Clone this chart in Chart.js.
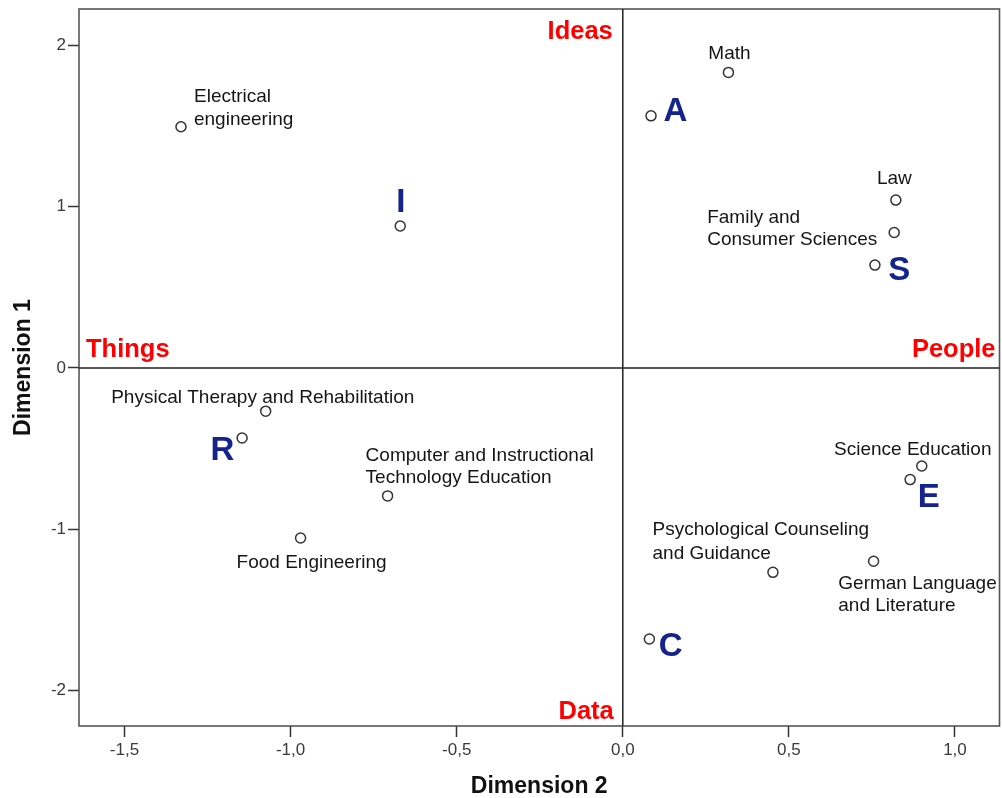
<!DOCTYPE html>
<html>
<head>
<meta charset="utf-8">
<script src="https://cdn.jsdelivr.net/npm/chart.js@4.4.1/dist/chart.umd.min.js"></script>
<style>
  html, body { margin: 0; padding: 0; background: #ffffff; overflow: hidden; }
  #wrap { width: 1006px; height: 798px; }
</style>
</head>
<body>
<div id="wrap"><canvas id="c" width="1006" height="798"></canvas></div>
<script>
// ---- Data ----
const fieldNames = ['Electrical engineering', 'Math', 'Law', 'Family and Consumer Sciences',
  'Physical Therapy and Rehabilitation', 'Computer and Instructional Technology Education',
  'Food Engineering', 'Science Education', 'Psychological Counseling and Guidance',
  'German Language and Literature'];
const fieldLabelLines = [['Electrical', 'engineering'], ['Math'], ['Law'], ['Family and', 'Consumer Sciences'],
  ['Physical Therapy and Rehabilitation'], ['Computer and Instructional', 'Technology Education'],
  ['Food Engineering'], ['Science Education'], ['Psychological Counseling', 'and Guidance'],
  ['German Language', 'and Literature']];
const fieldDim2 = [-1.330, 0.318, 0.822, 0.817, -1.075, -0.708, -0.970, 0.900, 0.452, 0.755];
const fieldDim1 = [1.494, 1.831, 1.040, 0.839, -0.268, -0.793, -1.054, -0.608, -1.267, -1.198];

const typeLetters = ['R', 'I', 'A', 'S', 'E', 'C'];
const typeDim2 = [-1.146, -0.670, 0.085, 0.759, 0.865, 0.080];
const typeDim1 = [-0.434, 0.879, 1.562, 0.637, -0.692, -1.680];

const quadrantLabels = ['Ideas', 'Things', 'People', 'Data'];

const xTickValues = [-1.5, -1.0, -0.5, 0.0, 0.5, 1.0];
const yTickValues = [-2, -1, 0, 1, 2];
const xTitle = 'Dimension 2';
const yTitle = 'Dimension 1';

// ---- Styling (label offsets relative to each point, in pixels) ----
const fieldLabelStyle = [
  {dx: 13, dy: [-25, -1.5], align: 'left'},
  {dx: 1, dy: [-13.5], align: 'center'},
  {dx: -1.5, dy: [-16.5], align: 'center'},
  {dx: -187, dy: [-9.5, 12.7], align: 'left'},
  {dx: -154.5, dy: [-7.7], align: 'left'},
  {dx: -22, dy: [-35, -12.4], align: 'left'},
  {dx: -64, dy: [29.6], align: 'left'},
  {dx: -87.7, dy: [-10.7], align: 'left'},
  {dx: -120.4, dy: [-37, -13.7], align: 'left'},
  {dx: -35.3, dy: [27.3, 50], align: 'left'}
];
const typeLabelStyle = [
  {dx: -19.8, dy: 22.3}, {dx: 0.5, dy: -13.7}, {dx: 24.5, dy: 5},
  {dx: 24.3, dy: 15}, {dx: 18.7, dy: 27.4}, {dx: 21.3, dy: 17.3}
];

const FONT = "'Liberation Sans', Arial, Helvetica, sans-serif";

const fieldPoints = fieldDim2.map((x, i) => ({x: x, y: fieldDim1[i]}));
const typePoints = typeDim2.map((x, i) => ({x: x, y: typeDim1[i]}));

const noPad = () => ({left: 0, right: 0, top: 0, bottom: 0});

const overlayPlugin = {
  id: 'overlay',
  beforeDatasetsDraw(chart) {
    const ctx = chart.ctx, a = chart.chartArea;
    const sx = chart.scales.x, sy = chart.scales.y;
    ctx.save();
    ctx.strokeStyle = '#555555';
    ctx.lineWidth = 1.6;
    ctx.strokeRect(a.left, a.top, a.right - a.left, a.bottom - a.top);
    ctx.strokeStyle = '#222222';
    ctx.lineWidth = 1.5;
    const x0 = sx.getPixelForValue(0), y0 = sy.getPixelForValue(0);
    ctx.beginPath();
    ctx.moveTo(x0, a.top); ctx.lineTo(x0, a.bottom);
    ctx.moveTo(a.left, y0); ctx.lineTo(a.right, y0);
    ctx.stroke();
    ctx.restore();
  },
  afterDatasetsDraw(chart) {
    const ctx = chart.ctx, a = chart.chartArea;
    const sx = chart.scales.x, sy = chart.scales.y;
    ctx.save();
    ctx.font = '19px ' + FONT;
    ctx.fillStyle = '#151515';
    ctx.textBaseline = 'alphabetic';
    fieldPoints.forEach((p, i) => {
      const px = sx.getPixelForValue(p.x), py = sy.getPixelForValue(p.y);
      const st = fieldLabelStyle[i];
      ctx.textAlign = st.align;
      fieldLabelLines[i].forEach((line, j) => {
        ctx.fillText(line, px + st.dx, py + st.dy[j]);
      });
    });
    ctx.font = 'bold 33px ' + FONT;
    ctx.fillStyle = '#14248c';
    ctx.textAlign = 'center';
    typePoints.forEach((p, i) => {
      const px = sx.getPixelForValue(p.x), py = sy.getPixelForValue(p.y);
      const st = typeLabelStyle[i];
      ctx.fillText(typeLetters[i], px + st.dx, py + st.dy);
    });
    const x0 = sx.getPixelForValue(0), y0 = sy.getPixelForValue(0);
    ctx.font = 'bold 25.5px ' + FONT;
    ctx.fillStyle = '#ff0000';
    ctx.textAlign = 'right';
    ctx.fillText(quadrantLabels[0], x0 - 10, a.top + 30);
    ctx.textAlign = 'left';
    ctx.fillText(quadrantLabels[1], a.left + 7, y0 - 11);
    ctx.textAlign = 'right';
    ctx.fillText(quadrantLabels[2], a.right - 4, y0 - 11);
    ctx.fillText(quadrantLabels[3], x0 - 9, a.bottom - 7);
    ctx.restore();
  }
};

const commaFmt = v => v.toFixed(1).replace('.', ',');

new Chart(document.getElementById('c'), {
  type: 'scatter',
  data: {
    datasets: [
      {
        label: 'Fields',
        data: fieldPoints,
        pointRadius: 5,
        pointBorderWidth: 1.5,
        pointBorderColor: '#333333',
        pointBackgroundColor: '#ffffff'
      },
      {
        label: 'Types',
        data: typePoints,
        pointRadius: 5,
        pointBorderWidth: 1.5,
        pointBorderColor: '#333333',
        pointBackgroundColor: '#ffffff'
      }
    ]
  },
  options: {
    responsive: false,
    animation: false,
    devicePixelRatio: 1,
    layout: { padding: { top: 9, right: 2, left: 0, bottom: 0 } },
    plugins: { legend: { display: false }, tooltip: { enabled: false } },
    scales: {
      x: {
        type: 'linear',
        min: -1.637,
        max: 1.134,
        afterBuildTicks: s => { s.ticks = xTickValues.map(v => ({value: v})); },
        afterFit: s => { s.height = 72; s.paddingLeft = 0; s.paddingRight = 0; s.getPadding = noPad; },
        grid: { drawOnChartArea: false, drawTicks: true, tickLength: 11, tickColor: '#333333', tickWidth: 1.5 },
        border: { display: false },
        ticks: {
          callback: v => commaFmt(v),
          font: { family: FONT, size: 17 },
          color: '#3a3a3a',
          padding: 3,
          maxRotation: 0
        },
        title: {
          display: true,
          text: xTitle,
          font: { family: FONT, size: 23, weight: 'bold', lineHeight: 1.0 },
          color: '#111111',
          padding: { top: 0, bottom: 0 }
        }
      },
      y: {
        type: 'linear',
        min: -2.219,
        max: 2.224,
        afterBuildTicks: s => { s.ticks = yTickValues.map(v => ({value: v})); },
        afterFit: s => { s.width = 79; s.paddingTop = 0; s.paddingBottom = 0; s.getPadding = noPad; },
        grid: { drawOnChartArea: false, drawTicks: true, tickLength: 11, tickColor: '#333333', tickWidth: 1.5 },
        border: { display: false },
        ticks: {
          callback: v => String(v),
          font: { family: FONT, size: 17 },
          color: '#3a3a3a',
          padding: 2
        },
        title: {
          display: true,
          text: yTitle,
          font: { family: FONT, size: 23, weight: 'bold', lineHeight: 1.0 },
          color: '#111111',
          padding: { top: 12, bottom: 0 }
        }
      }
    }
  },
  plugins: [overlayPlugin]
});
</script>
</body>
</html>
